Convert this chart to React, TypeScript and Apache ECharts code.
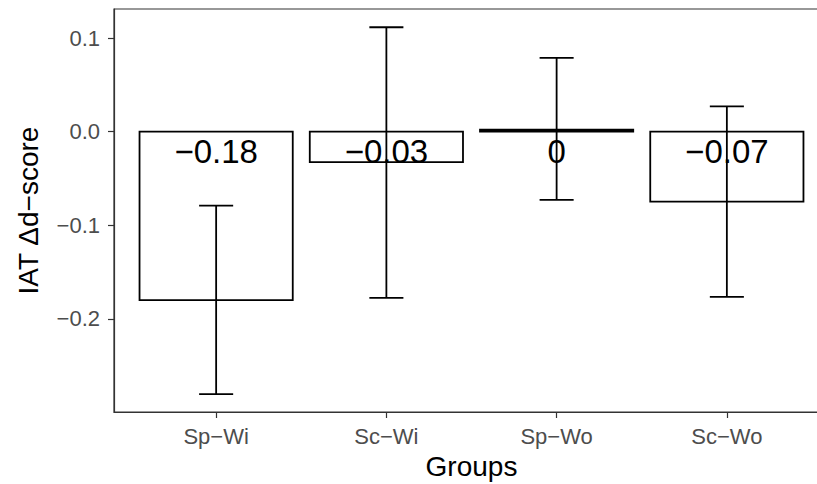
import React, { useEffect, useRef } from "react";
import * as echarts from "echarts";

const categories = ["Sp−Wi", "Sc−Wi", "Sp−Wo", "Sc−Wo"];
const positions = [1, 2, 3, 4];
const means = [-0.18, -0.0325, 0.002, -0.0748];
const meanLabels = ["−0.18", "−0.03", "0", "−0.07"];
const errLow = [-0.2805, -0.1775, -0.0728, -0.1765];
const errHigh = [-0.079, 0.1115, 0.0788, 0.027];
const yTicks = [-0.2, -0.1, 0, 0.1];
const yTickLabels = ["−0.2", "−0.1", "0.0", "0.1"];

const FONT = "'Liberation Sans', Arial, Helvetica, sans-serif";

export default function App() {
  const ref = useRef<HTMLDivElement>(null);
  useEffect(() => {
    if (!ref.current) return;
    const chart = echarts.init(ref.current, undefined, { renderer: "svg" });
    const barData = positions.map((p, i) => [p, means[i]]);
    const errData = positions.map((p, i) => [p, errLow[i], errHigh[i]]);
    const labelData = positions.map((p, i) => [p, 0, i]);
    chart.setOption({
      animation: false,
      backgroundColor: "#fff",
      grid: {
        left: 114,
        top: 9,
        width: 715,
        bottom: 72,
        show: true,
        borderColor: "#333",
        borderWidth: 1.2,
        containLabel: false,
        outerBoundsMode: "none",
      },
      xAxis: {
        type: "value",
        min: 0.4,
        max: 4.6,
        name: "Groups",
        nameLocation: "middle",
        nameGap: 40,
        nameTextStyle: { color: "#000", fontSize: 28, fontFamily: FONT },
        splitLine: { show: false },
        axisLine: { show: true, onZero: false, lineStyle: { color: "#333", width: 1.2 } },
        axisTick: { show: true, length: 6, customValues: positions, lineStyle: { color: "#333", width: 1.2 } },
        axisLabel: {
          customValues: positions,
          margin: 13,
          color: "#4D4D4D",
          fontSize: 22,
          fontFamily: FONT,
          formatter: (v: number) => {
            const idx = positions.findIndex((p) => Math.abs(p - v) < 1e-6);
            return idx >= 0 ? categories[idx] : "";
          },
        },
      },
      yAxis: {
        type: "value",
        min: -0.2995,
        max: 0.131,
        name: "IAT Δd−score",
        nameLocation: "middle",
        nameGap: 72,
        nameTextStyle: { color: "#000", fontSize: 28, fontFamily: FONT },
        splitLine: { show: false },
        axisLine: { show: true, onZero: false, lineStyle: { color: "#333", width: 1.2 } },
        axisTick: { show: true, length: 6, customValues: yTicks, lineStyle: { color: "#333", width: 1.2 } },
        axisLabel: {
          customValues: yTicks,
          margin: 14,
          color: "#4D4D4D",
          fontSize: 22,
          fontFamily: FONT,
          formatter: (v: number) => {
            const idx = yTicks.findIndex((t) => Math.abs(t - v) < 1e-6);
            return idx >= 0 ? yTickLabels[idx] : "";
          },
        },
      },
      series: [
        {
          type: "custom",
          name: "bars",
          data: barData,
          encode: { x: 0, y: 1 },
          renderItem: (params: any, api: any) => {
            const x = api.value(0);
            const y = api.value(1);
            const p0 = api.coord([x, 0]);
            const p1 = api.coord([x, y]);
            const w = api.size([0.9, 0])[0];
            return {
              type: "rect",
              shape: { x: p0[0] - w / 2, y: Math.min(p0[1], p1[1]), width: w, height: Math.abs(p1[1] - p0[1]) },
              style: { fill: "#fff", stroke: "#000", lineWidth: 1.8 },
            };
          },
        },
        {
          type: "custom",
          name: "labels",
          data: labelData,
          encode: { x: 0, y: 1 },
          renderItem: (params: any, api: any) => {
            const x = api.value(0);
            const i = api.value(2);
            const p = api.coord([x, 0]);
            return {
              type: "text",
              x: p[0],
              y: p[1] + 3,
              style: {
                text: meanLabels[i],
                fill: "#000",
                fontSize: 33,
                fontFamily: FONT,
                align: "center",
                verticalAlign: "top",
              },
            };
          },
        },
        {
          type: "custom",
          name: "errors",
          data: errData,
          encode: { x: 0, y: [1, 2] },
          renderItem: (params: any, api: any) => {
            const x = api.value(0);
            const lo = api.coord([x, api.value(1)]);
            const hi = api.coord([x, api.value(2)]);
            const cw = api.size([0.2, 0])[0] / 2;
            const st = { stroke: "#000", lineWidth: 1.8 };
            return {
              type: "group",
              children: [
                { type: "line", shape: { x1: lo[0], y1: lo[1], x2: hi[0], y2: hi[1] }, style: st },
                { type: "line", shape: { x1: lo[0] - cw, y1: lo[1], x2: lo[0] + cw, y2: lo[1] }, style: st },
                { type: "line", shape: { x1: hi[0] - cw, y1: hi[1], x2: hi[0] + cw, y2: hi[1] }, style: st },
              ],
            };
          },
        },
      ],
    });
    return () => chart.dispose();
  }, []);
  return (
    <div
      ref={ref}
      style={{ position: "fixed", left: 0, top: 0, width: 817, height: 484, background: "#fff" }}
    />
  );
}
